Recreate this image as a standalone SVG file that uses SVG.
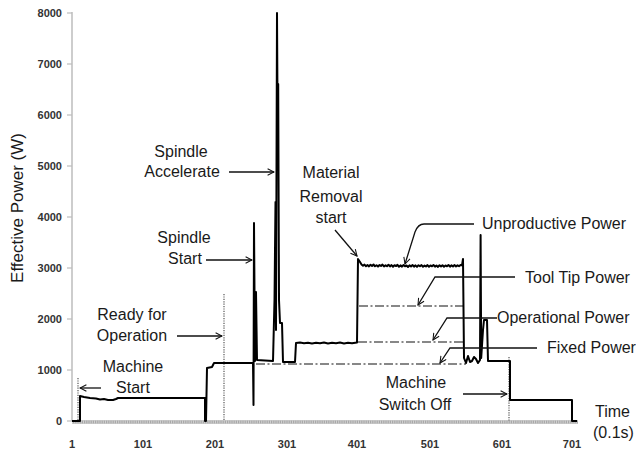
<svg xmlns="http://www.w3.org/2000/svg" width="636" height="450" viewBox="0 0 636 450">
<style>
.lbl{font-family:"Liberation Sans",Arial,sans-serif;font-size:16px;fill:#1a1a1a}
.tick{font-family:"Liberation Sans",Arial,sans-serif;font-size:11px;font-weight:bold;fill:#333}
.curve{fill:none;stroke:#000;stroke-width:2;stroke-linejoin:round}
.dot{stroke:#555;stroke-width:1.2;stroke-dasharray:1.2,1.2;fill:none}
.dd{stroke:#111;stroke-width:1.2;stroke-dasharray:9,2.5,2,2.5;fill:none}
.arr{stroke:#111;stroke-width:1.3;fill:none;marker-end:url(#ah)}
</style>
<defs>
<marker id="ah" viewBox="0 0 10 10" refX="9" refY="5" markerWidth="8" markerHeight="8" markerUnits="userSpaceOnUse" orient="auto">
<path d="M1,1 L9,5 L1,9" fill="none" stroke="#111" stroke-width="1.3"/>
</marker>
</defs>
<rect width="636" height="450" fill="#fff"/>
<g id="axes">
<line x1="72" y1="12" x2="72" y2="421" stroke="#bdbdbd" stroke-width="1.5"/>
<g stroke="#bdbdbd" stroke-width="1.2">
<line x1="67" y1="13" x2="72" y2="13"/><line x1="67" y1="64" x2="72" y2="64"/><line x1="67" y1="115" x2="72" y2="115"/><line x1="67" y1="166" x2="72" y2="166"/><line x1="67" y1="217" x2="72" y2="217"/><line x1="67" y1="268" x2="72" y2="268"/><line x1="67" y1="319" x2="72" y2="319"/><line x1="67" y1="370" x2="72" y2="370"/><line x1="67" y1="421" x2="72" y2="421"/>
</g>
<line x1="72" y1="422" x2="578" y2="422" stroke="#a8a8a8" stroke-width="3.5"/>
<line x1="72" y1="422" x2="578" y2="422" stroke="#d0d0d0" stroke-width="3.5" stroke-dasharray="1,1.2"/>
<g class="tick" text-anchor="end">
<text x="62" y="17">8000</text><text x="62" y="68">7000</text><text x="62" y="119">6000</text><text x="62" y="170">5000</text><text x="62" y="221">4000</text><text x="62" y="272">3000</text><text x="62" y="323">2000</text><text x="62" y="374">1000</text><text x="62" y="425">0</text>
</g>
<g class="tick" text-anchor="middle">
<text x="72" y="448">1</text><text x="143" y="448">101</text><text x="215" y="448">201</text><text x="287" y="448">301</text><text x="357" y="448">401</text><text x="430" y="448">501</text><text x="502" y="448">601</text><text x="572" y="448">701</text>
</g>
<text class="lbl" style="font-size:17px" text-anchor="middle" x="23" y="208" transform="rotate(-90 23 208)">Effective Power (W)</text>
<text class="lbl" x="595" y="417">Time</text>
<text class="lbl" x="593" y="438">(0.1s)</text>
</g>
<g id="levels">
<line class="dot" x1="78" y1="378" x2="78" y2="421"/>
<line class="dot" x1="224" y1="294" x2="224" y2="421"/>
<line class="dot" x1="509" y1="357" x2="509" y2="421"/>
<line class="dd" x1="359" y1="306" x2="463" y2="306"/>
<line class="dd" x1="358" y1="342" x2="463" y2="342"/>
<line class="dd" x1="256" y1="364" x2="466" y2="364"/>
</g>
<g id="power-curve">
<path class="curve" d="M72,421 L80,421 L80,396 L84,397 L90,398 L96,398.5 L100,399.5 L104,399 L108,400 L113,400 L116,399 L118,398 L205,398 L205,421 L206,421 L207,368 L212,367 L214,363 L253,363 L253.5,405 L254,223 L255,361 L256,292 L257,360 L273,361 L274.5,300 L275.5,202 L276,330 L277,13 L277.6,120 L278.2,84 L279,300 L280,323 L282,323 L283,362 L295,362 L296,343 L300,342.6 L304,343.3 L308,342.7 L312,343.4 L316,342.8 L320,343.2 L324,342.5 L328,343.4 L332,342.8 L336,343.3 L340,342.6 L344,343.4 L348,342.7 L352,343.2 L357,342.5 L358,259 L360,262 L361.5,264.5 L363,265.8 L364.5,264.6 L366,266.2 L367.5,265 L369,266.4 L370.5,264.8 L372,265.9 L373.5,264.5 L375,266.3 L376.5,265.2 L378,266.6 L379.5,265 L381,266 L382.5,264.6 L384,266.5 L385.5,265.3 L387,266.2 L388.5,264.7 L390,266.4 L391.5,265.1 L393,266.7 L394.5,265.2 L396,266.1 L397.5,264.9 L399,266.8 L400.5,265.4 L402,266.6 L403.5,265 L405,266.3 L406.5,265.5 L408,267 L409.5,265.3 L411,266.4 L412.5,265 L414,266.6 L415.5,265.4 L417,266.9 L418.5,265.2 L420,266.3 L421.5,265.1 L423,266.7 L424.5,265.6 L426,266.5 L427.5,265.1 L429,266.8 L430.5,265.4 L432,266.3 L433.5,265 L435,266.6 L436.5,265.5 L438,266.9 L439.5,265.3 L441,266.4 L442.5,265.2 L444,266.7 L445.5,265.5 L447,266.3 L448.5,265 L450,266.6 L451.5,265.4 L453,266.5 L454.5,265.1 L456,266.4 L457.5,265.3 L459,266.2 L460.5,265 L462,265.4 L463,259 L464,358 L466,363 L468,356 L470,362 L472,361 L474,357 L476,359 L478,363 L480,360 L480.6,235 L481.2,358 L483,330 L484,320 L487,320 L488,361 L510,361 L510,400 L572,400 L572,421 L577,421"/>
</g>
<g id="connectors">
<line class="arr" x1="101" y1="388" x2="80" y2="388"/>
<line class="arr" x1="177" y1="336" x2="222" y2="336"/>
<line class="arr" x1="206" y1="260" x2="252" y2="260"/>
<line class="arr" x1="229" y1="172" x2="274" y2="172"/>
<line class="arr" x1="335" y1="230" x2="357" y2="256"/>
<path class="arr" d="M474,224 L424,224 Q418,224 415,232 L405,264"/>
<path class="arr" d="M515,277 L435,277 L418,305"/>
<path class="arr" d="M497,318 L447,318 L433,340"/>
<path class="arr" d="M537,348 L450,348 L440,363"/>
<line class="arr" x1="463" y1="394" x2="507" y2="394"/>
</g>
<g id="label-machine-start" class="lbl" text-anchor="middle"><text x="133" y="372">Machine</text><text x="133" y="393">Start</text></g>
<g id="label-ready" class="lbl" text-anchor="middle"><text x="132" y="320">Ready for</text><text x="132" y="341">Operation</text></g>
<g id="label-spindle-start" class="lbl" text-anchor="middle"><text x="184" y="243">Spindle</text><text x="185" y="264">Start</text></g>
<g id="label-spindle-acc" class="lbl" text-anchor="middle"><text x="181" y="157">Spindle</text><text x="182" y="177">Accelerate</text></g>
<g id="label-material" class="lbl" text-anchor="middle"><text x="331" y="178">Material</text><text x="331" y="202">Removal</text><text x="331" y="223">start</text></g>
<g id="label-switch-off" class="lbl" text-anchor="middle"><text x="416" y="388">Machine</text><text x="415" y="410">Switch Off</text></g>
<g id="label-unproductive" class="lbl"><text x="482" y="229">Unproductive Power</text></g>
<g id="label-tooltip" class="lbl"><text x="525" y="283">Tool Tip Power</text></g>
<g id="label-operational" class="lbl"><text x="497" y="323">Operational Power</text></g>
<g id="label-fixed" class="lbl"><text x="547" y="353">Fixed Power</text></g>
</svg>
